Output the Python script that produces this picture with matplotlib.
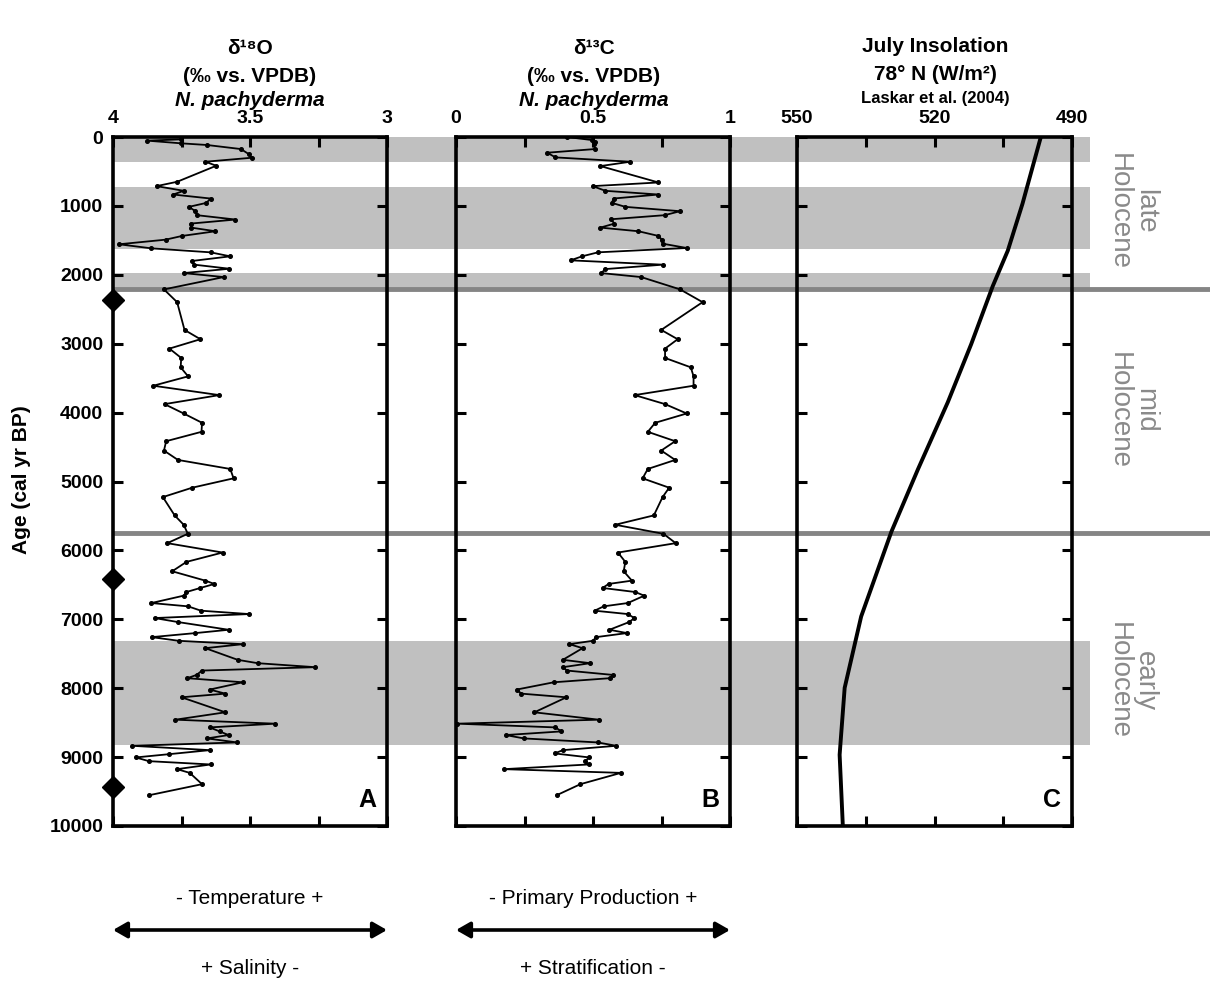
import matplotlib
matplotlib.use('Agg')
import matplotlib.pyplot as plt

# d18O N. pachyderma (age cal yr BP, permil)
d18o_age = [34, 53, 92, 116, 175, 247, 301, 359, 417, 650, 713, 781, 835, 893, 956,
            1014, 1077, 1135, 1198, 1257, 1315, 1368, 1436, 1490, 1557, 1616, 1674, 1732,
            1800, 1853, 1912, 1975, 2033, 2212,
            2397, 2800, 2935, 3071, 3207, 3343, 3474, 3610, 3746, 3877, 4013, 4148, 4279,
            4415, 4551, 4687, 4818, 4954, 5090, 5226, 5492, 5628, 5759, 5895, 6031, 6167,
            6303, 6439,
            6487, 6545, 6604, 6657, 6764, 6812, 6875, 6924, 6982, 7040, 7152, 7200, 7259,
            7312, 7361, 7419, 7588, 7637, 7695, 7744, 7807, 7855, 7914, 8020, 8079, 8132,
            8350, 8457, 8515, 8569, 8627, 8680, 8729, 8787, 8836, 8899, 8957, 9005, 9059,
            9107, 9175, 9229, 9393, 9554]
d18o_val = [3.751, 3.875, 3.751, 3.657, 3.533, 3.505, 3.493, 3.663, 3.623, 3.766,
            3.841, 3.742, 3.780, 3.644, 3.659, 3.723, 3.699, 3.693, 3.553, 3.717,
            3.715, 3.626, 3.748, 3.808, 3.978, 3.860, 3.644, 3.572, 3.713, 3.703,
            3.575, 3.742, 3.596, 3.814,
            3.766, 3.739, 3.681, 3.794, 3.751, 3.753, 3.726, 3.853, 3.612, 3.812,
            3.742, 3.675, 3.677, 3.806, 3.814, 3.763, 3.572, 3.560, 3.711, 3.818,
            3.775, 3.742, 3.727, 3.802, 3.600, 3.732, 3.784, 3.663,
            3.630, 3.681, 3.732, 3.742, 3.860, 3.726, 3.679, 3.503, 3.848, 3.763,
            3.578, 3.699, 3.859, 3.760, 3.526, 3.663, 3.545, 3.472, 3.262, 3.675,
            3.695, 3.729, 3.526, 3.647, 3.590, 3.750, 3.590, 3.772, 3.408, 3.647,
            3.611, 3.578, 3.657, 3.547, 3.930, 3.647, 3.794, 3.917, 3.869, 3.644,
            3.766, 3.720, 3.675, 3.869]

# d13C N. pachyderma
d13c_age = [0, 44, 68, 102, 175, 228, 296, 359, 422, 660, 713, 781, 835, 893, 956,
            1014, 1077, 1135, 1194, 1257, 1315, 1368, 1436, 1490, 1548, 1611, 1674, 1732,
            1790, 1853, 1917, 1975, 2033, 2212, 2397, 2800, 2935, 3071, 3207, 3343, 3474,
            3610, 3746, 3877, 4013, 4148, 4279, 4415, 4551, 4687, 4818, 4954, 5090, 5226,
            5492, 5628, 5759, 5895, 6031, 6167, 6303, 6439, 6487, 6545, 6604, 6657, 6764,
            6812, 6875, 6924, 6982, 7040, 7152, 7200, 7259, 7312, 7361, 7419, 7588, 7637,
            7695, 7744, 7807, 7855, 7914, 8020, 8079, 8132, 8350, 8457, 8515, 8569, 8627,
            8680, 8729, 8787, 8836, 8899, 8947, 9005, 9059, 9107, 9175, 9229, 9393, 9554]
d13c_val = [0.405, 0.496, 0.509, 0.503, 0.507, 0.333, 0.363, 0.636, 0.527, 0.739,
            0.499, 0.545, 0.739, 0.575, 0.569, 0.618, 0.818, 0.761, 0.566, 0.578,
            0.527, 0.666, 0.739, 0.751, 0.754, 0.842, 0.518, 0.460, 0.418, 0.754,
            0.545, 0.530, 0.676, 0.818, 0.900, 0.749, 0.809, 0.763, 0.763, 0.857,
            0.867, 0.867, 0.652, 0.763, 0.842, 0.727, 0.700, 0.800, 0.749, 0.800,
            0.700, 0.681, 0.778, 0.754, 0.722, 0.581, 0.757, 0.802, 0.591, 0.618,
            0.612, 0.642, 0.557, 0.535, 0.654, 0.687, 0.627, 0.539, 0.506, 0.627,
            0.651, 0.632, 0.560, 0.624, 0.511, 0.500, 0.414, 0.462, 0.390, 0.490,
            0.390, 0.405, 0.572, 0.561, 0.357, 0.221, 0.239, 0.403, 0.286, 0.521,
            0.005, 0.363, 0.385, 0.181, 0.248, 0.517, 0.585, 0.390, 0.360, 0.487,
            0.470, 0.484, 0.175, 0.602, 0.454, 0.367]

# July insolation 78N (Laskar et al. 2004)
insol_age = [0, 968, 1648, 2166, 3008, 3850, 4821, 5728, 6959, 7995, 8966, 10000]
insol_val = [496.8, 500.8, 504.0, 507.3, 512.0, 517.1, 523.6, 529.4, 536.0, 539.6, 540.7, 540.0]

# age-model tie points, shaded intervals and Holocene boundaries
tie_ages = [2373, 6419, 9440]
bands = [(0, 370), (720, 1620), (1970, 2200), (7320, 8830)]
boundaries = [2200, 5745]
periods = [('late\nHolocene', 1075), ('mid\nHolocene', 3970), ('early\nHolocene', 7890)]

W, H = 1210, 983
BOLD = ['Liberation Sans Narrow', 'Liberation Sans', 'DejaVu Sans']
REG = ['Liberation Sans', 'DejaVu Sans']

fig = plt.figure(figsize=(W / 100, H / 100), dpi=100)


def px_axes(x0, x1, y0=137, y1=826):
    return fig.add_axes([x0 / W, 1 - y1 / H, (x1 - x0) / W, (y1 - y0) / H])


# background layer for the bands and boundary lines
bg = px_axes(113, 1210)
bg.set_xlim(0, 1)
bg.set_ylim(10000, 0)
bg.axis('off')
bg.set_zorder(0)
for a, b in bands:
    bg.axhspan(a, b, xmin=0, xmax=(1090 - 113) / (1210 - 113), color='#c0c0c0', lw=0)
for a in boundaries:
    bg.axhline(a, color='#858585', lw=3.5)
for label, age in periods:
    bg.text((1132 - 113) / (1210 - 113), age, label, rotation=-90,
            ha='center', va='center', multialignment='center',
            color='#8a8a8a', fontsize=20, family=REG, linespacing=1.0)


def style(ax, xlim, ticks, labels):
    ax.set_zorder(1)
    ax.patch.set_visible(False)
    ax.set_ylim(10000, 0)
    ax.set_xlim(*xlim)
    ax.set_yticks(range(0, 10001, 1000))
    ax.set_xticks(ticks)
    ax.set_xticklabels(labels)
    ax.tick_params(direction='in', length=7, width=2.2, top=True, bottom=True,
                   left=True, right=True, labeltop=True, labelbottom=False,
                   labelleft=False, pad=7)
    for s in ax.spines.values():
        s.set_linewidth(2.6)
    for t in ax.get_xticklabels():
        t.set_family(BOLD)
        t.set_fontweight('bold')
        t.set_fontsize(14)


axA = px_axes(113, 387)
style(axA, (4, 3), [4, 3.75, 3.5, 3.25, 3], ['4', '', '3.5', '', '3'])
axA.tick_params(labelleft=True)
for t in axA.get_yticklabels():
    t.set_family(BOLD)
    t.set_fontweight('bold')
    t.set_fontsize(14)
axA.plot(d18o_val, d18o_age, color='black', lw=1.3, marker='o', ms=2.6)
axA.plot([4] * len(tie_ages), tie_ages, ls='none', marker='D', ms=11,
         color='black', clip_on=False, zorder=5)
axA.text(0.96, 0.02, 'A', transform=axA.transAxes, ha='right', va='bottom',
         fontsize=18, fontweight='bold', family=REG)

axB = px_axes(456, 730)
style(axB, (0, 1), [0, 0.25, 0.5, 0.75, 1], ['0', '', '0.5', '', '1'])
axB.plot(d13c_val, d13c_age, color='black', lw=1.3, marker='o', ms=2.6)
axB.text(0.96, 0.02, 'B', transform=axB.transAxes, ha='right', va='bottom',
         fontsize=18, fontweight='bold', family=REG)

axC = px_axes(797, 1072)
style(axC, (550, 490), [550, 535, 520, 505, 490], ['550', '', '520', '', '490'])
axC.plot(insol_val, insol_age, color='black', lw=2.8)
axC.text(0.96, 0.02, 'C', transform=axC.transAxes, ha='right', va='bottom',
         fontsize=18, fontweight='bold', family=REG)

fig.text(22 / W, 1 - 480 / H, 'Age (cal yr BP)', rotation=90, ha='center', va='center',
         fontsize=15, fontweight='bold', family=BOLD)


# column headers
def header(x, y, s, size=15, style='normal'):
    fig.text(x / W, 1 - y / H, s, ha='center', va='center', fontsize=size,
             fontweight='bold', style=style, family=BOLD)


header(250, 48, 'δ¹⁸O')
header(250, 76, '(‰ vs. VPDB)')
header(250, 100, 'N. pachyderma', style='italic')
header(594, 48, 'δ¹³C')
header(594, 76, '(‰ vs. VPDB)')
header(594, 100, 'N. pachyderma', style='italic')
header(935, 47, 'July Insolation')
header(935, 75, '78° N (W/m²)')
header(935, 98, 'Laskar et al. (2004)', size=12)

# interpretation arrows below panels A and B
for x0, x1, top, bottom in [(113, 387, '- Temperature +', '+ Salinity -'),
                            (456, 730, '- Primary Production +', '+ Stratification -')]:
    fig.add_artist(matplotlib.patches.FancyArrowPatch(
        (x0 / W, 1 - 930 / H), (x1 / W, 1 - 930 / H), transform=fig.transFigure,
        arrowstyle='<|-|>,head_length=0.42,head_width=0.24', mutation_scale=20,
        lw=2.6, color='black', shrinkA=0, shrinkB=0))
    xc = (x0 + x1) / 2
    fig.text(xc / W, 1 - 898 / H, top, ha='center', va='center', fontsize=15, family=REG)
    fig.text(xc / W, 1 - 968 / H, bottom, ha='center', va='center', fontsize=15, family=REG)

fig.savefig('out.png', dpi=100)
